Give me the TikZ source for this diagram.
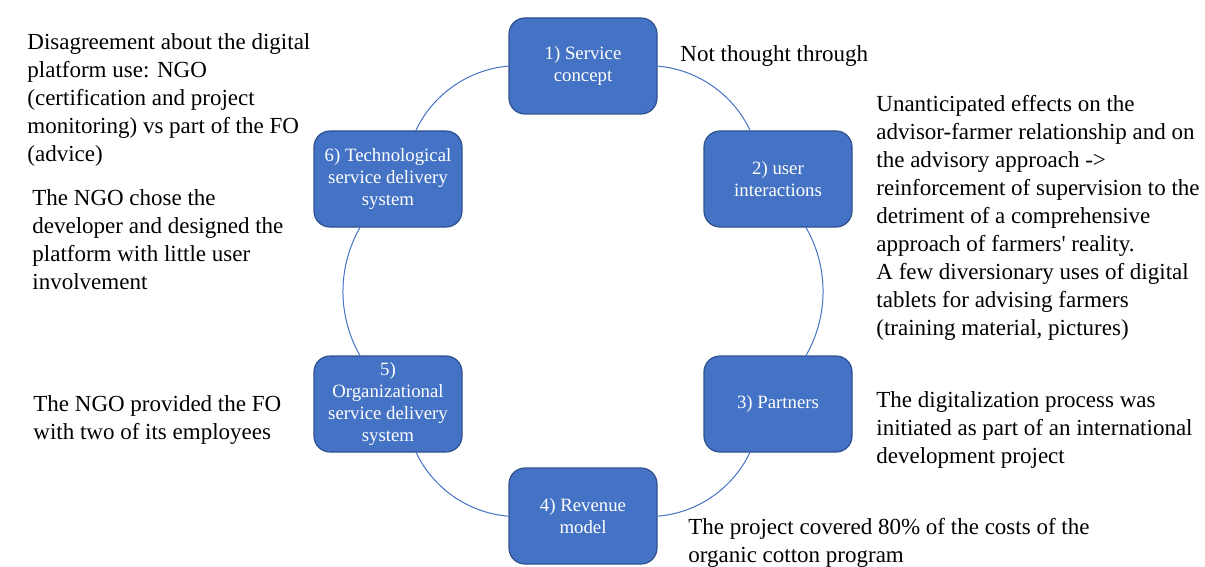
\documentclass[tikz,border=0pt]{standalone}
\usepackage{fontspec}
\setmainfont{Liberation Serif}
\usetikzlibrary{positioning}
\definecolor{stageblue}{RGB}{68, 114, 196}
\definecolor{stageedge}{RGB}{47, 82, 143}

\tikzset{
  stagebox/.style={draw=stageedge, fill=stageblue, line width=0.6pt, rounded corners=8pt, minimum width=74pt, minimum height=48pt, align=center, text=white, font=\fontsize{9.4}{11}\selectfont, inner sep=2pt},
  note/.style={anchor=north west, align=left, inner sep=0pt, font=\fontsize{11.5}{14}\selectfont},
  ring/.style={draw=stageblue, line width=0.5pt}
}

\begin{document}
\begin{tikzpicture}[x=0.5pt, y=-0.5pt]
  \useasboundingbox (0, 0) rectangle (1205, 567);

  % Six stages on the circle
  \node[stagebox] (concept) at (583, 66) {1) Service\\concept};
  \node[stagebox] (interact) at (778, 179) {2) user\\interactions};
  \node[stagebox] (partners) at (778, 404) {3) Partners};
  \node[stagebox] (revenue) at (583, 516) {4) Revenue\\model};
  \node[stagebox] (orgsys) at (388, 404) {5)\\Organizational\\service delivery\\system};
  \node[stagebox] (techsys) at (388, 179) {6) Technological\\service delivery\\system};

  % Circle arcs
  \foreach \a/\b in {concept/interact, interact/partners, partners/revenue, revenue/orgsys, orgsys/techsys, techsys/concept}
    \draw[ring] (\a) to[bend left=30, looseness=0.91] (\b);

  % Left notes
  \node[note] (techdispute) at (27, 33) {Disagreement about the digital\\platform use: NGO\\(certification and project\\monitoring) vs part of the FO\\(advice)};
  \node[note] (techdev) at (32, 189) {The NGO chose the\\developer and designed the\\platform with little user\\involvement};
  \node[note] (orgnote) at (33, 395) {The NGO provided the FO\\with two of its employees};

  % Right notes
  \node[note] (conceptnote) at (680, 45) {Not thought through};
  \node[note] (interactnote) at (876, 95) {Unanticipated effects on the\\advisor-farmer relationship and on\\the advisory approach ->\\reinforcement of supervision to the\\detriment of a comprehensive\\approach of farmers\textquotesingle{} reality.\\A few diversionary uses of digital\\tablets for advising farmers\\(training material, pictures)};
  \node[note] (partnersnote) at (876, 391) {The digitalization process was\\initiated as part of an international\\development project};
  \node[note] (revenuenote) at (688, 518) {The project covered 80\% of the costs of the\\organic cotton program};
\end{tikzpicture}
\end{document}
